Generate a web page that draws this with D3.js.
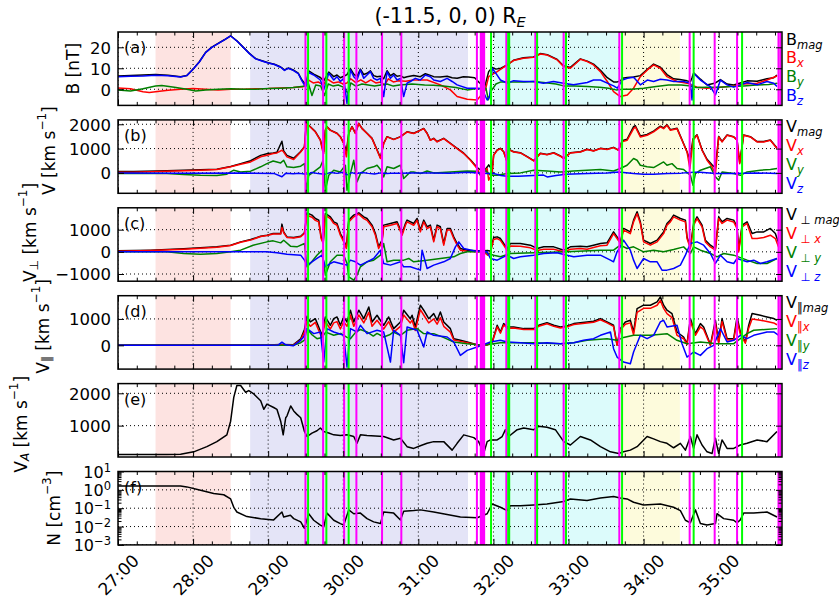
<!DOCTYPE html>
<html><head><meta charset="utf-8">
<script src="https://cdn.jsdelivr.net/npm/d3@7"></script>
<style>
body{margin:0;background:#fff}
text{font-family:"DejaVu Sans",sans-serif}
</style>
</head><body>
<svg id="chart" width="839" height="600"></svg>
<script>
// ---- time axis (seconds after 27:00) ----
const timeTicks = [0, 60, 120, 180, 240, 300, 360, 420, 480];
const timeLabels = ["27:00","28:00","29:00","30:00","31:00","32:00","33:00","34:00","35:00"];

// shaded intervals [start, end] in seconds
const shadeSpans = [[30, 90], [105.6, 279.7], [300, 400.6], [403, 449]];
// event markers in seconds
const magentaTimes = [149.8, 163.9, 180.7, 190.5, 211.0, 226.4, 286.8, 289.9, 290.8, 291.7, 292.6, 310.3, 333.5, 356.1, 400.6, 456.8, 476.8, 494.7, 527.8, 529.3];
const greenTimes = [151.9, 166.5, 184.3, 298.1, 311.8, 312.6, 334.9, 358.0, 402.8, 460.0, 498.7];

// ---- (a) magnetic field [nT] ----
const bMag = [[0,6.3],[10,6.5],[20,6.8],[30,7.0],[40,6.7],[50,6.0],[55,6.6],[60,9.6],[65,13.1],[70,17.6],[75,20.1],[80,21.9],[85,23.6],[90,25.5],[95,23.1],[100,20.1],[105,17.1],[110,14.6],[115,13.6],[120,12.6],[125,11.9],[130,10.6],[133,9.2],[136,10.1],[140,9.2],[144,7.7],[147,4.4],[150,2.2],[152.4,8.8],[156.4,7.2],[161.7,5.6],[164.4,4],[168.4,8.2],[172.4,6],[175,6.8],[177.7,5.5],[180.4,6.2],[183,7],[185.7,9.8],[188.4,7.2],[191,6],[193.7,9.6],[196.4,7],[199,7.6],[201.7,8.8],[204.3,6.5],[207,6],[209.7,6.2],[212.3,5],[215,8.8],[217.7,6.5],[220.3,7.5],[223,6.2],[225.7,6.5],[228.3,5.5],[231,6],[236.3,6.6],[241.6,6],[245.6,7.4],[249.6,6.6],[252.3,6],[257.6,5.8],[263,6.2],[267,5.5],[271,5.2],[276,6],[280,5.8],[285,5.5],[289,3],[293,1],[296.2,8.4],[299,10.4],[302,9.6],[306,10],[311,11.6],[316,13.8],[324,15],[332,15.4],[337.5,17],[343,16.5],[351,14.2],[356,11.2],[361.5,10.4],[369.5,14.5],[375,13.4],[380,12],[385.5,9],[391,5.5],[396,3.5],[399,3.5],[401.4,4],[403,5.2],[407,5.6],[412,5.8],[417.4,6.5],[423,9.5],[428,12],[433.4,10.5],[438.7,7],[444,5],[449,4.6],[454.7,4],[457.4,3.6],[458.7,5.5],[460,7.8],[462.7,6.3],[465.4,4.8],[470.7,2],[477.4,3],[481.4,4.6],[486.7,2.5],[492,2],[497.3,3],[502.7,4],[510.7,3.8],[518.6,5],[524,5.5],[526.6,6.8]];
const bX = [[0,0.6],[10,0.2],[20,-1.2],[25,-1.5],[30,-1.2],[40,-0.5],[50,0],[60,0.3],[70,0],[80,-0.3],[90,0],[100,0],[110,0.2],[120,0.3],[130,0.6],[140,0.8],[148,1.2],[150,2],[152,4.5],[156,3],[160,3.5],[164,2],[167,5],[172,3],[176,3.5],[180,2.5],[183,3],[186,5],[190,3.2],[194,4.5],[198,3],[202,4.5],[206,3],[210,3.5],[213,2],[216,5],[220,3.5],[224,4],[230,3.8],[236,4.4],[247,4.4],[257.6,2.1],[265.6,-0.3],[271,-3.5],[279,-4.8],[287,-5.1],[293.6,-0.3],[296.2,6],[303,8.4],[311,11.6],[316,13.7],[324,14.8],[332,15.2],[337.5,16.8],[343,16.3],[351,14],[356,10.8],[361.5,10],[369.5,14.3],[375,13.2],[380,11.6],[385.5,8.4],[391,3.7],[396,-1.1],[401.4,-3.5],[407,-2.7],[412,0.5],[417.4,6],[423,9.2],[428,11.6],[433.4,10],[438.7,6],[446.7,3.7],[454.7,2.9],[462.7,1],[470.7,0.5],[481.4,1],[492,1.6],[500,2.5],[510.7,2.9],[518.6,4.4],[526.6,6.3]];
const bY = [[0,-0.3],[10,-0.8],[20,0.2],[30,1.5],[35,1.8],[45,1],[55,0],[62,-0.8],[70,-0.3],[80,0],[90,0.2],[100,0],[110,0],[120,0.3],[130,0.5],[140,0.8],[150,1.5],[152,3],[155,-3],[158,2],[162,1.5],[165,-3],[168,2.5],[172,1.5],[176,2],[180,1],[184,-2],[186,3],[190,1.5],[195,2.5],[200,2],[205,1.5],[210,2],[215,2.5],[220,1.5],[225,2],[235,2.5],[245,2],[252,1.9],[260,1.5],[270,0.8],[279,-0.3],[287,0.3],[294,0.5],[296,-5],[298,-1],[302,2.5],[306,3.5],[315,3.5],[325,3.5],[332,3.7],[340,3.2],[350,2.5],[356,1.6],[365,1.5],[375,1.3],[385,1],[392,0.5],[398,-0.3],[403,0],[410,0],[420,0.5],[430,1.3],[440,2],[450,2],[458,1.5],[462,0.8],[470,1],[480,1],[490,1.3],[500,1.6],[510,2],[520,2.3],[527,2.9]];
const bZ = [[0,6.0],[10,6.2],[20,6.3],[30,6.7],[40,6.4],[50,5.8],[55,6.5],[60,9.5],[65,13],[70,17.5],[75,20],[80,21.8],[85,23.5],[90,25.4],[95,23],[100,20],[105,17],[110,14.5],[115,13.5],[120,12.5],[125,11.8],[130,10.5],[133,9],[136,10],[140,9],[144,7.5],[147,4],[150,1],[152.4,8],[156.4,6.8],[161.7,4.4],[164.4,-0.3],[168.4,7.6],[172.4,4.4],[175,6],[177.7,3.7],[180.4,5.2],[183,-6.7],[185.7,9.2],[188.4,6],[191,4.4],[193.7,9.2],[196.4,5.2],[199,6.8],[201.7,8.4],[204.3,5.2],[207,4.4],[209.7,5.2],[212.3,-3.5],[215,8.4],[217.7,5.2],[220.3,6.8],[223,4.4],[225.7,5.2],[228.3,-3.5],[231,2.9],[233.6,3.7],[237.6,5.2],[241.6,4.4],[245.6,6.8],[249.6,6],[252.3,4.4],[257.6,3.7],[263,5.2],[267,3.7],[271,2.1],[279,0.5],[287,0.5],[291,0],[295,-5.1],[297,-3.5],[299,10],[301.6,7.9],[305.6,4.4],[308.2,3.7],[311,2.9],[316.2,4.1],[324,3.7],[332.2,3.7],[340,2.9],[348,3.7],[356,2.9],[364,2.1],[375,3.2],[380,4.4],[385.5,4.4],[391,2.9],[396,1.6],[399,0.5],[403,4.4],[407,5.2],[412,5.7],[417.4,2.1],[423,4.4],[428,3.7],[433.4,4.8],[438.7,4.4],[444,3.7],[452,3.7],[457.4,2.9],[458.7,-5.1],[460,7.6],[462.7,6],[465.4,4.4],[473.4,1.3],[477.4,-2.7],[481.4,4.4],[486.7,2.1],[492,1],[497.3,2.1],[502.7,3.2],[510.7,2.1],[518.6,3.7],[524,2.9],[526.6,1.3]];

// ---- (b) bulk velocity [km/s] ----
const vMag = [[0,60],[12.6,60],[39,90],[66,130],[79,150],[90,260],[98,380],[106,500],[114,720],[119,790],[124,820],[127,850],[131,1300],[132.4,900],[135,720],[140.4,600],[146,880],[149,1080],[150.5,2050],[153.7,1900],[157.7,1700],[161.7,1360],[163.4,1000],[164.4,880],[165.7,1760],[167,1900],[169.7,1760],[175,1630],[177.7,1490],[180.4,1220],[182.5,900],[184.4,1630],[187,1900],[189.7,1640],[192.4,2040],[195,1830],[199,1630],[203,1420],[207,950],[209.7,620],[212.3,1220],[215,1490],[220.3,1380],[225.7,1490],[231,1690],[236.3,1630],[241.6,1760],[244.3,1830],[247,1630],[249.6,1350],[252.3,1420],[255,1290],[260.3,1420],[265.6,1220],[271,1010],[276.3,810],[281.6,540],[287,220],[289.6,120],[292.2,60],[295,240],[296.2,330],[299,120],[300.2,740],[303,940],[305.6,1010],[308.2,870],[310.4,540],[312.2,970],[316.2,870],[321.5,830],[327,670],[332.2,500],[337.5,810],[342.8,760],[348.2,830],[353.5,700],[356.2,600],[361.5,830],[369.5,870],[374.8,970],[380,910],[385.5,1010],[390.8,970],[396,1050],[400,940],[402.8,1320],[406.8,1380],[412,1900],[413.4,1940],[417.4,1520],[422.8,1580],[428,1720],[433.4,1920],[436,1850],[438.7,1980],[441.4,1780],[446.7,1840],[450.7,1360],[454.7,870],[457,550],[459.5,1400],[462.7,1570],[466.7,950],[470.7,560],[474.7,330],[477.4,200],[480,1500],[482.7,1290],[486.7,1560],[492,1490],[494.7,1350],[496.8,420],[500,1560],[505.3,1490],[510.7,1290],[516,1290],[521.3,1350],[526.6,1020]];
const vX = [[0,30],[12.6,30],[39,70],[66,110],[79,140],[90,250],[98,355],[106,450],[114,660],[119,725],[124,795],[127,820],[131,930],[132.4,860],[135,660],[140.4,550],[146,860],[149,1070],[150.5,2030],[153.7,1890],[157.7,1685],[161.7,1340],[163.4,930],[164.4,795],[165.7,1750],[167,1890],[169.7,1750],[175,1620],[177.7,1480],[180.4,1205],[182.5,660],[184.4,1620],[187,1890],[189.7,1620],[192.4,2030],[195,1820],[199,1620],[203,1410],[207,930],[209.7,590],[212.3,1205],[215,1480],[220.3,1370],[225.7,1480],[231,1685],[236.3,1620],[241.6,1750],[244.3,1820],[247,1620],[249.6,1340],[252.3,1410],[255,1275],[260.3,1410],[265.6,1205],[271,1000],[276.3,795],[281.6,520],[287,180],[289.6,-100],[292.2,-30],[295,180],[296.2,-300],[299,-30],[300.2,725],[303,930],[305.6,1000],[308.2,860],[310.4,520],[312.2,960],[316.2,860],[321.5,820],[327,660],[332.2,490],[337.5,795],[342.8,750],[348.2,820],[353.5,685],[356.2,590],[361.5,820],[369.5,860],[374.8,960],[380,900],[385.5,1000],[390.8,960],[396,1040],[400,930],[402.8,1275],[406.8,1340],[412,1820],[413.4,1890],[417.4,1480],[422.8,1550],[428,1685],[433.4,1890],[436,1820],[438.7,1960],[441.4,1750],[446.7,1820],[450.7,1340],[454.7,860],[457,180],[459.5,1340],[462.7,1550],[466.7,930],[470.7,520],[474.7,250],[477.4,-30],[480,1480],[482.7,1275],[486.7,1550],[492,1480],[494.7,1340],[496.8,380],[500,1550],[505.3,1480],[510.7,1275],[516,1275],[521.3,1340],[526.6,1000]];
const vY = [[0,-30],[39,-30],[52.5,-70],[66,-100],[79,-110],[87,-55],[90,40],[92.5,110],[98,40],[106,70],[114,250],[119,380],[124,490],[130,410],[132.4,520],[135,250],[140.4,220],[146,275],[149,380],[150.5,-710],[152.4,-100],[156.4,40],[161.7,250],[163.9,520],[165.7,-710],[168.4,-100],[172.4,110],[177.7,40],[181.7,315],[183,-710],[185.7,-30],[188.4,520],[191,-370],[193.7,-30],[199,180],[204.3,250],[207,315],[209.7,140],[212.3,-165],[215,250],[220.3,180],[225.7,315],[228.3,-230],[233.6,40],[236.3,40],[241.6,-30],[247,80],[252.3,0],[265.6,40],[279,80],[287,70],[291,-165],[293.6,110],[297.6,-100],[303,-100],[311,-30],[321.5,0],[332.2,110],[342.8,80],[353.5,40],[364,80],[374.8,110],[385.5,140],[396,80],[401.4,180],[406.8,315],[412,590],[414.8,520],[417.4,315],[422.8,250],[428,220],[436,450],[438.7,315],[442.7,380],[446.7,180],[452,140],[457.4,-100],[459.5,-510],[461.4,-30],[465.4,110],[473.4,250],[477.4,-165],[480,-300],[482.7,40],[492,-30],[497.3,-100],[502.7,40],[513.3,110],[521.3,140],[526.6,180]];
const vZ = [[0,0],[50,-10],[100,0],[125,-30],[131,-160],[134,-20],[140,-40],[145,-20],[149,-50],[152,-50],[155,20],[160,-30],[165,-60],[170,20],[175,-20],[180,30],[183,-80],[187,10],[190,-40],[195,20],[200,-20],[205,-50],[210,0],[215,-30],[220,-10],[226,-20],[235,0],[250,0],[265,-10],[279,30],[288,0],[295,-30],[300,-20],[306,-110],[311,-140],[320,-140],[332,-110],[340,-90],[343,-165],[350,-110],[358,-55],[375,-30],[391,0],[400,40],[412,-30],[420,-60],[428,-55],[439,-30],[450,-10],[460,30],[465,30],[478,-30],[492,-30],[510,0],[527,-30]];

// ---- (c) perpendicular velocity [km/s] ----
const vpMag = [[0,45],[26,75],[52.5,135],[79,225],[90,300],[98,450],[106,555],[114,705],[119,750],[124,825],[130,825],[131,1250],[132.4,900],[135,675],[140.4,645],[146,705],[149,855],[151,1760],[155,1655],[157.7,1505],[160.4,1430],[162.3,675],[164,450],[165.7,1730],[169.7,1580],[172.4,1355],[175,1280],[177.7,825],[180.4,525],[182.5,225],[184.4,1430],[188.4,1655],[192.4,1760],[196.4,1580],[199,1505],[203,1205],[205.7,825],[208.3,225],[211,525],[212.3,1205],[217.7,1280],[223,1355],[227,825],[229.7,1280],[231,1430],[236.3,1280],[239,1505],[241.6,980],[244.3,1430],[247,1130],[249.6,1205],[252.3,525],[255,1205],[257.6,1130],[260.3,375],[263,1055],[265.6,1055],[268.3,675],[271,375],[273.6,150],[279,75],[287,45],[292.2,45],[295.4,60],[297.6,30],[300.2,645],[303,675],[305.6,600],[308.2,375],[311,150],[313.5,375],[321.5,375],[329.5,300],[335,150],[340.2,225],[348.2,225],[356.2,75],[361.5,225],[369.5,255],[374.8,225],[380,300],[385.5,375],[390.8,405],[396,900],[398.8,675],[401.4,450],[404,1055],[409.4,900],[412,1430],[414.8,1805],[417.4,1355],[420,525],[425.4,375],[430.8,525],[436,900],[438.7,1280],[441.4,1430],[444,1655],[449.4,1505],[453.4,1430],[454.7,675],[457.4,225],[460,1280],[462.7,1580],[466.7,1205],[469.4,525],[473.4,300],[477.4,150],[480,1580],[482.7,1355],[486.7,1505],[492,1430],[494.7,1130],[496,75],[498.7,1205],[502.7,1355],[506.7,825],[510.7,900],[516,900],[521.3,1055],[525.3,825],[528,375]];
const vpX = [[0,30],[26,60],[52.5,120],[79,210],[90,290],[98,430],[106,530],[114,690],[119,735],[124,800],[130,800],[131,1100],[132.4,860],[135,650],[140.4,620],[146,680],[149,830],[151,1650],[155,1560],[157.7,1420],[160.4,1350],[162.3,600],[164,380],[165.7,1650],[169.7,1500],[172.4,1280],[175,1200],[177.7,750],[180.4,450],[182.5,150],[184.4,1350],[188.4,1580],[192.4,1700],[196.4,1500],[199,1420],[203,1130],[205.7,750],[208.3,150],[211,450],[212.3,1130],[217.7,1200],[223,1280],[227,750],[229.7,1200],[231,1350],[236.3,1200],[239,1420],[241.6,900],[244.3,1350],[247,1050],[249.6,1130],[252.3,450],[255,1130],[257.6,1050],[260.3,300],[263,980],[265.6,980],[268.3,600],[271,300],[273.6,75],[279,30],[287,0],[292.2,0],[295.4,-150],[297.6,-30],[300.2,560],[303,600],[305.6,520],[308.2,300],[311,60],[313.5,260],[321.5,250],[329.5,180],[335,60],[340.2,120],[348.2,120],[356.2,0],[361.5,120],[369.5,150],[374.8,120],[380,200],[385.5,270],[390.8,300],[396,820],[398.8,600],[401.4,380],[404,980],[409.4,820],[412,1350],[414.8,1720],[417.4,1280],[420,450],[425.4,300],[430.8,450],[436,820],[438.7,1200],[441.4,1350],[444,1580],[449.4,1430],[453.4,1350],[454.7,600],[457.4,150],[460,1200],[462.7,1500],[466.7,1130],[469.4,450],[473.4,220],[477.4,80],[480,1500],[482.7,1280],[486.7,1430],[492,1350],[494.7,1050],[496,0],[498.7,1130],[502.7,1280],[506.7,600],[510.7,600],[516,650],[521.3,750],[525.3,600],[528,200]];
const vpY = [[0,0],[39,0],[52.5,-75],[66,-105],[79,-75],[90,0],[98,75],[108,300],[119,450],[124,495],[130,405],[132.4,525],[137.8,255],[143,225],[149,375],[151,-675],[153.7,-525],[159,-150],[163,75],[165.7,-1050],[169.7,-450],[175,-150],[180.4,-150],[183,-525],[184.4,-1130],[188.4,-1280],[191,-1050],[193.7,-675],[199,-450],[204.3,-375],[209.7,-150],[212.3,375],[215,-450],[220.3,-375],[228.3,-375],[232.3,-300],[236.3,-450],[247,-375],[257.6,-300],[268.3,-225],[273.6,-75],[279,0],[292.2,0],[300.2,-150],[305.6,-225],[313.5,-75],[332.2,-45],[358.8,0],[385.5,75],[396,75],[401.4,300],[406.8,150],[412,225],[420,0],[428,75],[436,0],[444,105],[452,225],[457.4,-75],[460,225],[465.4,75],[473.4,-75],[478.7,-225],[484,-75],[492,-150],[502.7,-375],[510.7,-525],[518.6,-525],[526.6,-300]];
const vpZ = [[0,0],[100,0],[119,0],[127,-45],[135,-105],[146,-150],[149,-375],[151,-600],[155,-450],[159,-300],[163,-150],[165.7,-675],[169.7,-525],[172.4,-450],[177.7,-525],[183,-600],[185.7,-375],[189.7,-450],[193.7,-600],[199,-450],[204.3,-300],[209.7,75],[212.3,-525],[217.7,-600],[225.7,-450],[228.3,-675],[233.6,-675],[241.6,-825],[243,75],[247,-750],[252.3,-600],[260.3,-450],[265.6,-300],[269.6,225],[272.3,450],[276.3,150],[284.3,45],[295,0],[297.6,-300],[303,-375],[311,-150],[316.2,-300],[321.5,-225],[332.2,-150],[340.2,-75],[350.8,-45],[358.8,-150],[364.2,-225],[374.8,-150],[385.5,-150],[393.5,-375],[396,-450],[398.8,0],[401.4,225],[404,525],[409.4,75],[412,-375],[414.8,-750],[420,-300],[425.4,-450],[430.8,-450],[434.7,-825],[438.7,-825],[444,-750],[449.4,-600],[453.4,-150],[457.4,375],[462.7,450],[468,300],[473.4,-75],[477.4,-525],[481.4,-150],[486.7,-450],[492,-525],[494.7,-300],[502.7,-450],[508,-375],[513.3,-525],[518.6,-450],[526.6,-300]];

// ---- (d) parallel velocity [km/s] ----
const vlMag = [[0,10],[120,10],[130,30],[140,20],[146,250],[149,600],[151,1100],[153.7,885],[157.7,1010],[160.4,695],[163,380],[165.7,1075],[169.7,760],[172.4,1010],[175,1075],[177.7,760],[180.4,1075],[183,885],[185.7,1330],[188.4,885],[192.4,1330],[196.4,1010],[200.4,1455],[203,885],[207,1140],[212.3,760],[216.3,1075],[220.3,633],[225.7,885],[228.3,1330],[233.6,1010],[235,1140],[237.6,695],[241.6,1520],[244.3,1330],[248.3,1010],[252.3,1200],[255,950],[257.6,1265],[260.3,885],[265.6,633],[268.3,253],[273.6,190],[279,127],[287,20],[295,20],[299,127],[303,760],[305.6,506],[308.2,823],[311,696],[316.2,696],[324.2,633],[332.2,633],[336.2,760],[342.8,860],[348.2,760],[353.5,696],[358.8,734],[364.2,823],[369.5,860],[374.8,886],[380,911],[385.5,1013],[390.8,886],[396,760],[398.8,20],[401.4,633],[405.4,886],[409.4,950],[412,506],[414.8,1393],[420,1520],[425.4,1520],[430.8,1646],[433.4,1836],[436,1520],[438.7,1330],[442.7,1203],[446.7,506],[452,316],[454.7,63],[457.4,1013],[461.4,443],[465.4,823],[468,696],[473.4,20],[477.4,950],[480,127],[482.7,1013],[486.7,253],[492,253],[494.7,1076],[497.3,506],[501.3,127],[504,760],[506.7,1203],[513.3,1140],[518.6,1076],[524,1013],[526.6,950]];
const vlX = [[0,0],[120,0],[130,20],[140,10],[146,200],[149,500],[151,900],[153.7,720],[157.7,870],[160.4,560],[163,300],[165.7,900],[169.7,620],[172.4,850],[175,900],[177.7,620],[180.4,900],[183,720],[185.7,1150],[188.4,720],[192.4,1150],[196.4,850],[200.4,1250],[203,720],[207,950],[212.3,620],[216.3,900],[220.3,500],[225.7,720],[228.3,1150],[233.6,850],[235,950],[237.6,560],[241.6,1350],[244.3,1150],[248.3,850],[252.3,1000],[255,800],[257.6,1050],[260.3,720],[265.6,500],[268.3,200],[273.6,150],[279,100],[287,10],[295,10],[299,100],[303,700],[305.6,460],[308.2,770],[311,650],[316.2,660],[324.2,600],[332.2,600],[336.2,720],[342.8,820],[348.2,720],[353.5,660],[358.8,700],[364.2,790],[369.5,820],[374.8,850],[380,870],[385.5,970],[390.8,850],[396,720],[398.8,0],[401.4,580],[405.4,800],[409.4,850],[412,400],[414.8,1250],[420,1400],[425.4,1400],[430.8,1520],[433.4,1700],[436,1400],[438.7,1200],[442.7,1050],[446.7,380],[452,250],[454.7,30],[457.4,900],[461.4,380],[465.4,700],[468,600],[473.4,0],[477.4,820],[480,80],[482.7,900],[486.7,200],[492,200],[494.7,950],[497.3,420],[501.3,80],[504,650],[506.7,1000],[513.3,950],[518.6,900],[524,850],[526.6,780]];
const vlY = [[0,0],[120,0],[140,0],[146,100],[149,200],[151,633],[155,400],[159,253],[163,300],[166,500],[172.4,380],[178,450],[183,300],[185.7,253],[190,500],[193.7,600],[199,506],[204,350],[207,450],[212.3,316],[217,400],[220,500],[225.7,380],[231,570],[239,633],[244,450],[252.3,443],[260,300],[268.3,127],[279,63],[292,0],[305.6,100],[332.2,100],[353.5,63],[364.2,100],[374.8,190],[390.8,253],[398.8,190],[404,300],[412,380],[425.4,380],[438.7,443],[446.7,190],[454.7,63],[465.4,127],[478.7,63],[492,63],[502.7,443],[508,570],[526.6,633]];
const vlZ = [[0,0],[120,0],[128,10],[131,120],[134,20],[140,-20],[145,150],[148,300],[149,380],[151,633],[156.4,443],[161.7,506],[164.4,-633],[167,633],[172.4,506],[180.4,380],[183,-823],[185.7,633],[191,506],[193.7,760],[199,443],[207,570],[212.3,506],[217.7,-633],[220.3,570],[225.7,380],[228.3,-658],[231,696],[239,570],[244.3,-63],[247,506],[252.3,380],[263,316],[268.3,127],[273.6,-380],[279,-190],[287,-63],[297.6,127],[305.6,190],[311,127],[321.5,100],[332.2,63],[342.8,100],[353.5,63],[364.2,100],[372,190],[380,253],[385.5,380],[393.5,506],[396,-127],[398.8,-443],[404,-633],[409.4,-696],[412,-253],[417.4,380],[422.8,253],[428,380],[433.4,886],[436,950],[438.7,696],[446.7,760],[450.7,63],[454.7,-443],[460,-253],[465.4,-380],[470.7,-127],[476,0],[481.4,633],[486.7,127],[492,190],[497.3,380],[502.7,253],[508,380],[518.6,506],[524,506],[528,380]];

// ---- (e) Alfven speed [km/s] ----
const vAlfven = [[0,105],[39,105],[50,115],[60.5,190],[71,350],[79,505],[87,715],[90,1137],[92.5,1875],[95,2243],[98,2243],[102,2032],[104.5,2085],[108.5,1980],[114,1770],[116.5,1505],[119,1665],[124.4,1560],[127,1505],[130,1137],[132,715],[134,1242],[135,1295],[138,1610],[140.4,1453],[143,1348],[146,1242],[149,820],[151,663],[155,770],[159,842],[161.7,927],[164.4,820],[168.4,770],[172.4,715],[177.7,695],[183,715],[188.4,663],[191,453],[193.7,715],[199,695],[212.3,663],[220.3,558],[225.7,610],[231,350],[236.3,295],[241.6,380],[247,453],[252.3,505],[260.3,505],[267,242],[271,453],[276.3,715],[284.3,630],[288.2,505],[292.2,137],[295,505],[297.6,558],[303,558],[307,663],[309.6,875],[312.2,663],[319,875],[324.2,927],[332.2,875],[336.2,980],[342.8,948],[349.5,875],[356.2,505],[361.5,400],[369.5,663],[377.5,558],[385.5,350],[393.5,190],[400.1,137],[404,190],[409.4,242],[414.8,350],[422.8,663],[428,590],[433.4,505],[438.7,453],[444,316],[449.4,453],[453.4,242],[457.4,663],[460,295],[462.7,715],[466.7,400],[470.7,190],[474.7,137],[477.4,610],[480,137],[482.7,558],[486.7,295],[492,295],[497.3,400],[502.7,453],[510.7,558],[518.6,505],[526.6,820]];

// ---- (f) density [cm^-3] ----
const density = [[0,1.62],[50,1.62],[55,1.45],[66,0.95],[76.5,0.63],[84.5,0.54],[90,0.32],[92.5,0.112],[95,0.062],[103,0.035],[114,0.027],[124.4,0.023],[131,0.062],[132.4,0.033],[137.8,0.041],[140.4,0.027],[146,0.018],[149,0.008],[152.4,0.05],[156.4,0.022],[161.7,0.012],[164.4,0.0095],[167,0.054],[172.4,0.022],[177.7,0.0145],[180.4,0.012],[184.4,0.081],[188.4,0.05],[193.7,0.054],[199,0.027],[204.3,0.018],[209.7,0.0145],[212.3,0.062],[220.3,0.054],[225.7,0.023],[228.3,0.069],[236.3,0.074],[241.6,0.081],[252.3,0.062],[263,0.046],[273.6,0.033],[287,0.03],[295,0.05],[299,0.17],[305.6,0.112],[311,0.074],[313.5,0.138],[321.5,0.138],[332.2,0.151],[342.8,0.17],[356.2,0.23],[361.5,0.32],[374.8,0.26],[385.5,0.355],[396,0.43],[401.4,0.355],[406.8,0.32],[412,0.21],[420,0.151],[433.4,0.17],[444,0.112],[449.4,0.074],[453.4,0.022],[457.4,0.016],[461.4,0.081],[465.4,0.0145],[470.7,0.012],[477.4,0.0145],[478.7,0.05],[484,0.027],[492,0.022],[494.7,0.016],[497.3,0.023],[500,0.054],[508,0.054],[518.6,0.062],[526.6,0.033]];

// ---- layout ----
const X0 = 118, X1 = 782;
const PANEL_H = 73.4;
const panelTop = i => 32 + 87.9 * i;
const comp = ["#000000", "#ff0000", "#008000", "#0000ff"];
const shadeFill = ["#fde3e1", "#e4e4f7", "#dcfbfb", "#fdfbdc"];
const FONT = 16.5;

const svg = d3.select("#chart");
const x = d3.scaleLinear().domain([0, 530.6]).range([X0, X1]);
const minorTimes = d3.range(0, 531, 15).filter(t => t % 60 !== 0);

const panels = [
  { letter: "(a)", series: [bMag, bX, bY, bZ], domain: [-7.7, 27.3], ticks: [0, 10, 20],
    legend: { main: "B", mark: "", subs: ["mag", "x", "y", "z"] },
    ylabel: [{ t: "B [nT]" }], ylabelX: 72.5, ylabelDy: 0 },
  { letter: "(b)", series: [vMag, vX, vY, vZ], domain: [-840, 2180], ticks: [0, 1000, 2000],
    legend: { main: "V", mark: "", subs: ["mag", "x", "y", "z"] },
    ylabel: [{ t: "V [km s" }, { t: "\u22121", sup: true }, { t: "]" }], ylabelX: 49, ylabelDy: -6 },
  { letter: "(c)", series: [vpMag, vpX, vpY, vpZ], domain: [-1324, 1986], ticks: [-1000, 0, 1000],
    legend: { main: "V", mark: " \u22a5 ", subs: ["mag", "x", "y", "z"] },
    ylabel: [{ t: "V" }, { t: "\u22a5", sub: true }, { t: " [km s" }, { t: "\u22121", sup: true }, { t: "]" }], ylabelX: 30, ylabelDy: -12 },
  { letter: "(d)", series: [vlMag, vlX, vlY, vlZ], domain: [-900, 1880], ticks: [0, 1000],
    legend: { main: "V", mark: "\u2016", subs: ["mag", "x", "y", "z"] },
    ylabel: [{ t: "V" }, { t: "\u2016", sub: true }, { t: " [km s" }, { t: "\u22121", sup: true }, { t: "]" }], ylabelX: 43, ylabelDy: -6 },
  { letter: "(e)", series: [vAlfven], domain: [30, 2300], ticks: [1000, 2000],
    legend: null,
    ylabel: [{ t: "V" }, { t: "A", sub: true, it: true }, { t: " [km s" }, { t: "\u22121", sup: true }, { t: "]" }], ylabelX: 21, ylabelDy: 4 },
  { letter: "(f)", series: [density], domain: [1e-3, 10], log: true, ticks: [1e-3, 1e-2, 1e-1, 1, 10],
    legend: null,
    ylabel: [{ t: "N [cm" }, { t: "\u22123", sup: true }, { t: "]" }], ylabelX: 54, ylabelDy: 0 }
];

const fmtNum = v => (v < 0 ? "\u2212" + Math.abs(v) : String(v));

panels.forEach((p, i) => {
  const top = panelTop(i), bottom = top + PANEL_H;
  const y = (p.log ? d3.scaleLog() : d3.scaleLinear()).domain(p.domain).range([bottom, top]);
  const g = svg.append("g");
  const clipId = "clip" + i;
  svg.append("clipPath").attr("id", clipId)
    .append("rect").attr("x", X0).attr("y", top).attr("width", X1 - X0).attr("height", PANEL_H);
  const body = g.append("g").attr("clip-path", `url(#${clipId})`);

  // shaded intervals
  shadeSpans.forEach((sp, k) => {
    body.append("rect").attr("x", x(sp[0])).attr("y", top)
      .attr("width", x(sp[1]) - x(sp[0])).attr("height", PANEL_H).attr("fill", shadeFill[k]);
  });

  // dotted grid
  timeTicks.forEach(t => {
    body.append("line").attr("x1", x(t)).attr("x2", x(t)).attr("y1", top).attr("y2", bottom)
      .attr("stroke", "#000").attr("stroke-width", 1).attr("stroke-dasharray", "1,3");
  });
  p.ticks.forEach(v => {
    body.append("line").attr("x1", X0).attr("x2", X1).attr("y1", y(v)).attr("y2", y(v))
      .attr("stroke", "#000").attr("stroke-width", 1).attr("stroke-dasharray", "1,3");
  });

  // data
  const line = d3.line().x(d => x(d[0])).y(d => y(d[1]));
  p.series.forEach((s, k) => {
    body.append("path").attr("d", line(s)).attr("fill", "none")
      .attr("stroke", comp[k]).attr("stroke-width", 1.5).attr("stroke-linejoin", "round");
  });

  // event markers
  magentaTimes.forEach(t => {
    body.append("line").attr("x1", x(t)).attr("x2", x(t)).attr("y1", top).attr("y2", bottom)
      .attr("stroke", "#ff00ff").attr("stroke-width", 2);
  });
  greenTimes.forEach(t => {
    body.append("line").attr("x1", x(t)).attr("x2", x(t)).attr("y1", top).attr("y2", bottom)
      .attr("stroke", "#00ff00").attr("stroke-width", 2);
  });

  // ticks (inward) via d3 axes
  const addAxis = (axis, tx, ty) => {
    const a = g.append("g").attr("transform", `translate(${tx},${ty})`).call(axis);
    a.select(".domain").remove();
    a.selectAll("line").attr("stroke", "#000").attr("stroke-width", 1);
    return a;
  };
  addAxis(d3.axisBottom(x).tickValues(timeTicks).tickSizeInner(-6).tickSizeOuter(0).tickFormat(""), 0, bottom);
  addAxis(d3.axisBottom(x).tickValues(minorTimes).tickSizeInner(-3.5).tickSizeOuter(0).tickFormat(""), 0, bottom);
  addAxis(d3.axisTop(x).tickValues(timeTicks).tickSizeInner(-6).tickSizeOuter(0).tickFormat(""), 0, top);
  addAxis(d3.axisTop(x).tickValues(minorTimes).tickSizeInner(-3.5).tickSizeOuter(0).tickFormat(""), 0, top);

  const yl = addAxis(d3.axisLeft(y).tickValues(p.ticks).tickSizeInner(-6).tickSizeOuter(0).tickPadding(7)
    .tickFormat(p.log ? () => "" : fmtNum), X0, 0);
  addAxis(d3.axisRight(y).tickValues(p.ticks).tickSizeInner(-6).tickSizeOuter(0).tickFormat(""), X1, 0);
  yl.selectAll("text").attr("fill", "#000").style("font-size", (p.log ? 16 : FONT) + "px")
    .style("font-family", "DejaVu Sans").attr("dy", "0.35em");
  if (p.log) {
    const minor = [];
    for (let e = -3; e < 1; e++) for (let m = 2; m <= 9; m++) minor.push(m * Math.pow(10, e));
    addAxis(d3.axisLeft(y).tickValues(minor).tickSizeInner(-3.5).tickSizeOuter(0).tickFormat(""), X0, 0);
    addAxis(d3.axisRight(y).tickValues(minor).tickSizeInner(-3.5).tickSizeOuter(0).tickFormat(""), X1, 0);
    yl.selectAll(".tick text").each(function (d) {
      const e = Math.round(Math.log10(d));
      const t = d3.select(this);
      t.append("tspan").text("10");
      t.append("tspan").attr("dy", "-0.5em").style("font-size", "11.5px").text(fmtNum(e));
    });
  }

  // frame
  g.append("rect").attr("x", X0).attr("y", top).attr("width", X1 - X0).attr("height", PANEL_H)
    .attr("fill", "none").attr("stroke", "#000").attr("stroke-width", 1.5);

  // panel letter
  g.append("text").attr("x", 124).attr("y", top + 21).style("font-size", "16px").text(p.letter);

  // legend
  if (p.legend) {
    const offs = [12.5, 31.3, 50.1, 68.9];
    p.legend.subs.forEach((s, k) => {
      const t = g.append("text").attr("x", 786).attr("y", top + offs[k]).attr("fill", comp[k])
        .style("font-size", "16px");
      t.append("tspan").text(p.legend.main);
      const first = t.append("tspan").attr("dy", 4).style("font-size", "11.5px");
      if (p.legend.mark) {
        first.text(p.legend.mark);
        t.append("tspan").style("font-size", "11.5px").style("font-style", "italic").text(s);
      } else {
        first.style("font-style", "italic").text(s);
      }
    });
  }

  // y label
  const cy = top + PANEL_H / 2 + p.ylabelDy;
  const lab = g.append("text").attr("transform", `translate(${p.ylabelX},${cy}) rotate(-90)`)
    .attr("text-anchor", "middle").attr("dominant-baseline", "central").style("font-size", "17px");
  let shift = 0;
  p.ylabel.forEach(part => {
    const ts = lab.append("tspan").text(part.t);
    let target = 0;
    if (part.sup) { ts.style("font-size", "12px"); target = -7; }
    else if (part.sub) { ts.style("font-size", "12px"); target = 4; }
    if (part.it) ts.style("font-style", "italic");
    ts.attr("dy", target - shift);
    shift = target;
  });

  // time labels on the bottom panel
  if (i === panels.length - 1) {
    const xa = g.append("g").attr("transform", `translate(0,${bottom})`)
      .call(d3.axisBottom(x).tickValues(timeTicks).tickSize(0).tickFormat((d, j) => timeLabels[j]));
    xa.select(".domain").remove();
    xa.selectAll("text").attr("y", 0).attr("dy", "0.35em").attr("fill", "#000")
      .style("font-size", "17px").style("font-family", "DejaVu Sans")
      .attr("text-anchor", "middle").attr("transform", "translate(0,30) rotate(-45)");
  }
});

// title
const title = svg.append("text").attr("x", (X0 + X1) / 2).attr("y", 23).attr("text-anchor", "middle")
  .style("font-size", "20.5px");
title.append("tspan").text("(-11.5, 0, 0) R");
title.append("tspan").attr("dy", 4).style("font-size", "14.5px").style("font-style", "italic").text("E");
</script>
</body></html>
